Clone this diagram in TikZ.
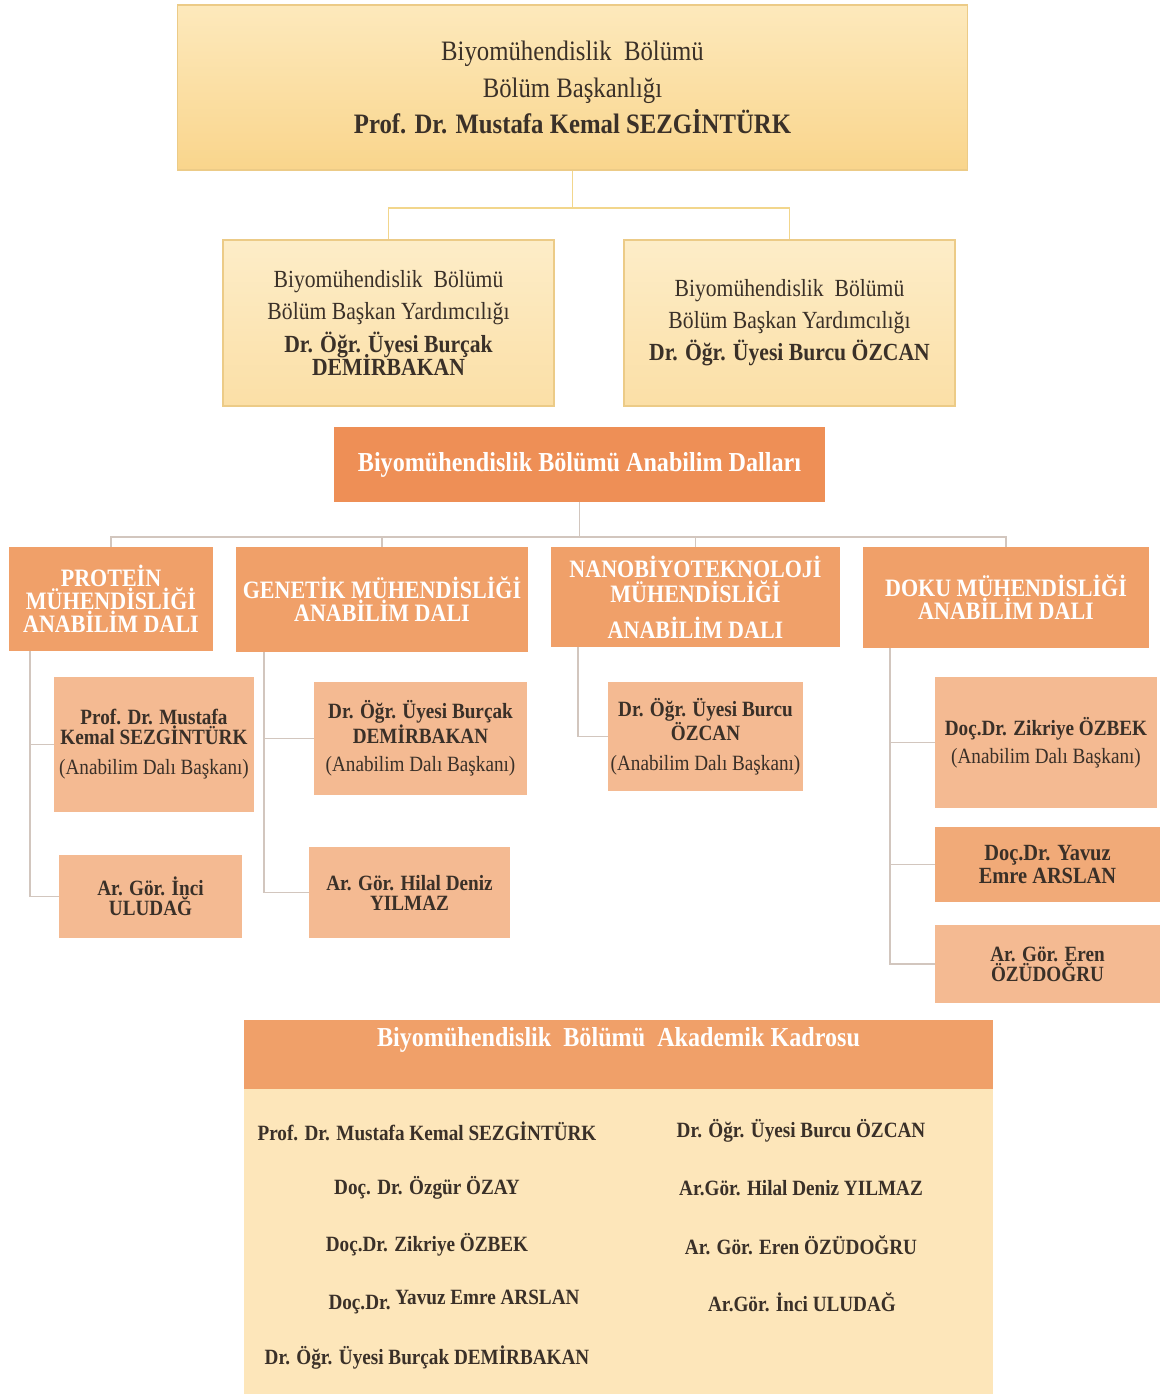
\documentclass[tikz,border=0pt]{standalone}
\usepackage{fontspec}
\setmainfont{Liberation Serif}[FakeStretch=0.88]
\definecolor{ink}{RGB}{58,48,40}
\definecolor{goldtop}{RGB}{253,233,188}
\definecolor{goldbot}{RGB}{249,213,140}
\definecolor{deptop}{RGB}{253,237,200}
\definecolor{depbot}{RGB}{251,223,166}
\definecolor{goldedge}{RGB}{236,203,135}
\definecolor{goldline}{RGB}{242,214,140}
\definecolor{headorange}{RGB}{238,143,86}
\definecolor{deptorange}{RGB}{240,160,105}
\definecolor{peach}{RGB}{244,186,146}
\definecolor{peachdark}{RGB}{241,170,120}
\definecolor{greyline}{RGB}{210,198,190}
\definecolor{cream}{RGB}{253,230,186}

\begin{document}
\begin{tikzpicture}[x=0.025cm,y=-0.025cm,
	goldbox/.style={draw=goldedge,line width=0.8pt,top color=goldtop,bottom color=goldbot,text=ink,align=center,inner sep=0pt},
	deputy/.style={goldbox,top color=deptop,bottom color=depbot,font=\fontsize{17.5}{22.8}\selectfont},
	deptbox/.style={fill=deptorange,text=white,align=center,inner sep=0pt,font=\fontsize{17.8}{16.3}\selectfont\bfseries},
	membox/.style={fill=peach,text=ink,align=center,inner sep=0pt,font=\fontsize{15.5}{14.2}\selectfont\bfseries},
	goldwire/.style={draw=goldline,line width=1.4pt},
	greywire/.style={draw=greyline,line width=1.4pt},
	staff/.style={text=ink,inner sep=0pt,font=\fontsize{15.5}{18}\selectfont\bfseries}]
		%%%%% START %%%%%
		\useasboundingbox (0,0) rectangle (1160,1394);
		
		% head of department and deputies
		\node[goldbox,minimum width=19.725cm,minimum height=4.125cm,font=\fontsize{20}{26}\selectfont] (bolum) at (572.5,87.5) {Biyomühendislik\ \ Bölümü\\Bölüm Başkanlığı\\\textbf{Prof. Dr. Mustafa Kemal SEZGİNTÜRK}};
		\node[deputy,minimum width=8.275cm,minimum height=4.15cm] (yrd1) at (388.5,323) {Biyomühendislik\ \ Bölümü\\Bölüm Başkan Yardımcılığı\\\textbf{Dr. Öğr. Üyesi Burçak}\\[-6.4pt]\textbf{DEMİRBAKAN}};
		\node[deputy,minimum width=8.275cm,minimum height=4.15cm] (yrd2) at (789.5,323) {Biyomühendislik\ \ Bölümü\\Bölüm Başkan Yardımcılığı\\\textbf{Dr. Öğr. Üyesi Burcu ÖZCAN}};
		
		\draw[goldwire] (bolum.south) -- ++(0,37) coordinate (bus1) -| (yrd1.north);
		\draw[goldwire] (bus1) -| (yrd2.north);
		
		% divisions
		\node[fill=headorange,text=white,inner sep=0pt,minimum width=12.275cm,minimum height=1.875cm,font=\fontsize{19.5}{22}\selectfont\bfseries] (dallar) at (579.5,464.5) {Biyomühendislik Bölümü Anabilim Dalları};
		
		\node[deptbox,minimum width=5.1cm,minimum height=2.6cm] (protein) at (111,599) {PROTEİN\\MÜHENDİSLİĞİ\\ANABİLİM DALI};
		\node[deptbox,minimum width=7.3cm,minimum height=2.625cm] (genetik) at (382,599.5) {GENETİK MÜHENDİSLİĞİ\\ANABİLİM DALI};
		\node[deptbox,minimum width=7.225cm,minimum height=2.5cm] (nano) at (695.5,597) {NANOBİYOTEKNOLOJİ\\[1.5pt]MÜHENDİSLİĞİ\\[9.3pt]ANABİLİM DALI};
		\node[deptbox,minimum width=7.15cm,minimum height=2.525cm] (doku) at (1006,597.5) {DOKU MÜHENDİSLİĞİ\\ANABİLİM DALI};
		
		\draw[greywire] (dallar.south) -- ++(0,35) coordinate (bus2) -| (protein.north);
		\draw[greywire] (bus2) -| (genetik.north);
		\draw[greywire] (bus2) -| (nano.north);
		\draw[greywire] (bus2) -| (doku.north);
		
		% members
		\node[membox,minimum width=5cm,minimum height=3.375cm] (p1) at (154,744.5) {Prof. Dr. Mustafa\\Kemal SEZGİNTÜRK\\[7pt]{\mdseries (Anabilim Dalı Başkanı)}};
		\node[membox,minimum width=4.575cm,minimum height=2.075cm] (p2) at (150.5,896.5) {Ar. Gör. İnci\\ULUDAĞ};
		\node[membox,minimum width=5.325cm,minimum height=2.825cm] (g1) at (420.5,738.5) {Dr. Öğr. Üyesi Burçak\\DEMİRBAKAN\\[6pt]{\mdseries (Anabilim Dalı Başkanı)}};
		\node[membox,minimum width=5.025cm,minimum height=2.275cm] (g2) at (409.5,892.5) {Ar. Gör. Hilal Deniz\\YILMAZ};
		\node[membox,minimum width=4.875cm,minimum height=2.725cm] (n1) at (705.5,736.5) {Dr. Öğr. Üyesi Burcu\\ÖZCAN\\[7pt]{\mdseries (Anabilim Dalı Başkanı)}};
		\node[membox,minimum width=5.55cm,minimum height=3.275cm] (d1) at (1046,742.5) {Doç.Dr. Zikriye ÖZBEK\\[6pt]{\mdseries (Anabilim Dalı Başkanı)}};
		\node[membox,fill=peachdark,minimum width=5.625cm,minimum height=1.875cm,font=\fontsize{16.5}{16.4}\selectfont\bfseries] (d2) at (1047.5,864.5) {Doç.Dr. Yavuz\\Emre ARSLAN};
		\node[membox,minimum width=5.625cm,minimum height=1.95cm] (d3) at (1047.5,964) {Ar. Gör. Eren\\ÖZÜDOĞRU};
		
		\draw[greywire] (protein.south) ++(-81,0) coordinate (ptrunk) |- (p1.west);
		\draw[greywire] (ptrunk) |- (p2.west);
		\draw[greywire] (genetik.south) ++(-118,0) coordinate (gtrunk) |- (g1.west);
		\draw[greywire] (gtrunk) |- (g2.west);
		\draw[greywire] (nano.south) ++(-117.5,0) coordinate (ntrunk) |- (n1.west);
		\draw[greywire] (doku.south) ++(-116,0) coordinate (dtrunk) |- (d1.west);
		\draw[greywire] (dtrunk) |- (d2.west);
		\draw[greywire] (dtrunk) |- (d3.west);
		
		% academic staff
		\node[fill=deptorange,inner sep=0pt,minimum width=18.725cm,minimum height=1.725cm] (kband) at (618.5,1054.5) {};
		\node[fill=cream,inner sep=0pt,minimum width=18.725cm,minimum height=7.625cm] (kbody) at (618.5,1241.5) {};
		\node[text=white,inner sep=0pt,font=\fontsize{19.5}{22}\selectfont\bfseries] (ktitle) at (618.5,1040) {Biyomühendislik\ \ Bölümü\ \ Akademik Kadrosu};
		
		\node[staff] (s1) at (427,1131) {Prof. Dr. Mustafa Kemal SEZGİNTÜRK};
		\node[staff] (s2) at (427,1188) {Doç. Dr. Özgür ÖZAY};
		\node[staff] (s3) at (427,1245) {Doç.Dr. Zikriye ÖZBEK};
		\node[staff] (s4) at (454,1302) {Doç.Dr.\raisebox{3pt}{\ Yavuz Emre ARSLAN}};
		\node[staff] (s5) at (427,1358) {Dr. Öğr. Üyesi Burçak DEMİRBAKAN};
		\node[staff] (s6) at (801,1131) {Dr. Öğr. Üyesi Burcu ÖZCAN};
		\node[staff] (s7) at (801,1188) {Ar.Gör. Hilal Deniz YILMAZ};
		\node[staff] (s8) at (801,1245) {Ar. Gör. Eren ÖZÜDOĞRU};
		\node[staff] (s9) at (802,1302) {Ar.Gör. İnci ULUDAĞ};
		
		%%%%% END %%%%%
\end{tikzpicture}
\end{document}
